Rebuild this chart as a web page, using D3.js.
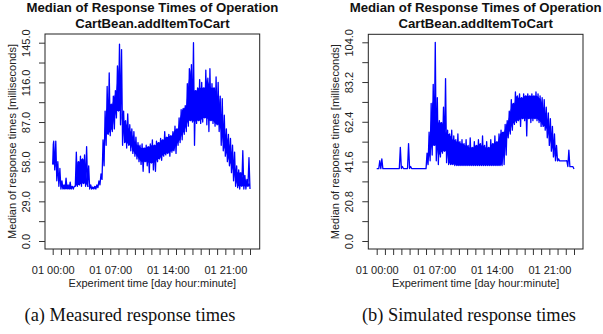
<!DOCTYPE html>
<html>
<head>
<meta charset="utf-8">
<script src="https://cdn.jsdelivr.net/npm/d3@7"></script>
<style>
  body { margin: 0; background: #fff; }
  svg text { font-family: "Liberation Sans", Arial, Helvetica, sans-serif; }
</style>
</head>
<body>
<div id="chart"></div>
<script>
// time grid: one low/high pair of the median band every 15 minutes
const stepHours = 0.25;

// (a) measured response times [ms], band low / high
const measuredLo = [56, 52, 44, 40, 38, 38, 38, 38, 38, 38, 38, 40, 40, 41, 40, 42,
  40, 40, 38, 38, 38, 38, 39, 41, 45, 55, 70, 78, 77, 80, 82, 90,
  95, 85, 70, 72, 68, 70, 66, 64, 62, 60, 58, 56, 51, 58, 55, 50,
  57, 52, 51, 58, 60, 59, 62, 63, 64, 62, 65, 66, 64, 70, 72, 74,
  78, 80, 84, 88, 87, 70, 86, 88, 86, 87, 90, 85, 80, 88, 86, 84,
  85, 80, 70, 66, 62, 58, 55, 50, 44, 40, 39, 38, 40, 38, 38, 40, 38];
const measuredHi = [73, 73, 58, 53, 44, 41, 46, 41, 43, 40, 40, 65, 58, 62, 60, 63,
  69, 55, 41, 39.5, 40, 41, 44, 49, 74, 95, 113, 123, 100, 106, 110, 128,
  144, 140, 95, 88, 93, 85, 82, 80, 76, 72, 70, 71, 68, 70, 69, 71,
  74, 70, 73, 72, 75, 74, 80, 76, 78, 77, 80, 84, 82, 90, 96, 97,
  99, 115, 126, 129, 145, 110, 112, 118, 116, 112, 125, 119, 126, 115, 112, 120,
  116, 106, 104, 92, 82, 78, 75, 70, 65, 55, 52, 50, 66, 48, 45, 61, 42];

// (b) simulated response times [ms], band low / high
const simulatedLo = [37.9, 37.9, 37.9, 37.9, 37.9, 37.9, 37.9, 37.9, 37.9, 37.9, 37.9, 37.9, 37.9, 37.9, 37.9, 37.9,
  37.9, 37.9, 37.9, 37.9, 37.9, 37.9, 37.9, 37.9, 37.9, 40, 42, 45, 50, 42, 40, 44,
  46, 47, 41, 40, 40, 40, 39.5, 39.5, 39.5, 39.5, 39.5, 39.5, 39.5, 39.5, 39.5, 39.5,
  39.5, 39.5, 39.5, 39.5, 39.5, 39.5, 39.5, 39.5, 39.5, 39.5, 39.5, 39.5, 39.5, 39.5, 40, 45,
  54, 56, 58, 61, 62, 63, 60, 64, 63, 55, 64, 62, 63, 64, 63, 62,
  60, 60, 58, 54, 50, 47, 44, 42, 41.9, 41.9, 41.9, 41.9, 41.9, 39, 38.9, 38.9, 37.7];
const simulatedHi = [37.9, 42, 43, 37.9, 37.9, 37.9, 37.9, 37.9, 37.9, 37.9, 37.9, 49, 39, 37.9, 37.9, 51,
  39, 37.9, 37.9, 37.9, 37.9, 37.9, 37.9, 37.9, 46, 57, 72, 82, 104, 75, 63, 62,
  70, 85, 58, 56, 58, 55, 53, 56, 52, 53, 51, 53, 50, 54, 49, 52,
  50, 53, 51, 55, 50, 52, 49, 53, 51, 55, 52, 56, 58, 57, 61, 63,
  68, 74, 72, 78, 76, 77, 75, 77, 76, 77, 76, 77, 76, 78, 77, 76,
  75, 74, 70, 67, 64, 60, 56, 50, 43, 41.9, 41.9, 41.9, 42, 47.6, 38.9, 38.9, 37.7];

// axis ticks
const hourTicks = d3.range(0, 25);
const hourLabels = { 0: "01 00:00", 7: "01 07:00", 14: "01 14:00", 21: "01 21:00" };
const measuredTicks = [0, 14.5, 29, 43.5, 58, 72.5, 87, 101.5, 116, 130.5, 145];
const simulatedTicks = [0, 10.4, 20.8, 31.2, 41.6, 52, 62.4, 72.8, 83.2, 93.6, 104];

const titleLines = ["Median of Response Times of Operation", "CartBean.addItemToCart"];
const xTitle = "Experiment time [day hour:minute]";
const yTitle = "Median of response times [milliseconds]";

const panels = [
  { lo: measuredLo, hi: measuredHi, ticks: measuredTicks, caption: "(a) Measured response times",
    box: { left: 45, right: 259.7, top: 34, bottom: 249 }, xr: [52.7, 250], yr: [241, 42.7], capX: 130 },
  { lo: simulatedLo, hi: simulatedHi, ticks: simulatedTicks, caption: "(b) Simulated response times",
    box: { left: 368.3, right: 583, top: 34.3, bottom: 249 }, xr: [376.7, 574], yr: [241, 42.3], capX: 469 }
];

const svg = d3.select("#chart").append("svg")
  .attr("width", 603)
  .attr("height", 334)
  .style("background", "#fff");

panels.forEach(p => {
  const b = p.box;
  const midX = (b.left + b.right) / 2;
  const midY = (b.top + b.bottom) / 2;
  const yMax = p.ticks[p.ticks.length - 1];

  const x = d3.scaleLinear().domain([0, 24]).range(p.xr);
  const y = d3.scaleLinear().domain([0, yMax]).range(p.yr);

  // solid body of the band: only the part shared with the neighbours,
  // so single spikes stay thin lines drawn by the zigzag below
  const n = p.lo.length;
  const body = p.lo.map((v, i) => {
    const a = Math.max(0, i - 1), c = Math.min(n - 1, i + 1);
    const top = Math.min(p.hi[a], p.hi[i], p.hi[c]);
    const bot = Math.max(p.lo[a], p.lo[i], p.lo[c]);
    return { t: i * stepHours, lo: Math.min(bot, top), hi: top };
  });
  svg.append("path")
    .datum(body)
    .attr("fill", "#0000ff")
    .attr("d", d3.area().x(d => x(d.t)).y0(d => y(d.lo)).y1(d => y(d.hi)));

  // jagged outline: zigzag between low and high
  const pts = [];
  p.lo.forEach((v, i) => {
    const t = i * stepHours;
    pts.push([t, v]);
    if (i < n - 1) pts.push([t + stepHours / 2, p.hi[i]]);
  });

  svg.append("path")
    .datum(pts)
    .attr("fill", "none")
    .attr("stroke", "#0000ff")
    .attr("stroke-width", 1.3)
    .attr("stroke-linejoin", "round")
    .attr("d", d3.line().x(d => x(d[0])).y(d => y(d[1])));

  // box
  svg.append("rect")
    .attr("x", b.left).attr("y", b.top)
    .attr("width", b.right - b.left).attr("height", b.bottom - b.top)
    .attr("fill", "none").attr("stroke", "#222").attr("stroke-width", 1);

  // Y axis
  const ya = svg.append("g")
    .attr("transform", `translate(${b.left},0)`)
    .call(d3.axisLeft(y).tickValues(p.ticks).tickSize(6)
      .tickFormat((d, i) => i % 2 === 0 ? d.toFixed(1) : ""));
  ya.select(".domain").remove();
  ya.selectAll("line").attr("stroke", "#333");
  ya.selectAll("text")
    .attr("x", null).attr("dy", null)
    .attr("transform", "translate(-19.5,0) rotate(-90)")
    .attr("text-anchor", "middle")
    .attr("dominant-baseline", "central")
    .attr("fill", "#222")
    .style("font-size", "11px");

  // X axis
  const xa = svg.append("g")
    .attr("transform", `translate(0,${b.bottom})`)
    .call(d3.axisBottom(x).tickValues(hourTicks).tickSize(6)
      .tickFormat(d => hourLabels[d] || ""));
  xa.select(".domain").remove();
  xa.selectAll("line").attr("stroke", "#333");
  xa.selectAll("text")
    .attr("y", 25).attr("dy", null)
    .attr("fill", "#222")
    .style("font-size", "11px");

  // titles
  titleLines.forEach((line, i) => {
    svg.append("text")
      .attr("x", midX).attr("y", 11.5 + i * 16.5)
      .attr("text-anchor", "middle")
      .style("font-size", "13.2px")
      .style("font-weight", "bold")
      .attr("fill", "#111")
      .text(line);
  });

  svg.append("text")
    .attr("x", midX).attr("y", 286.5)
    .attr("text-anchor", "middle")
    .style("font-size", "11px")
    .attr("fill", "#222")
    .text(xTitle);

  svg.append("text")
    .attr("transform", `translate(${b.left - 33},${midY}) rotate(-90)`)
    .attr("text-anchor", "middle")
    .attr("dominant-baseline", "central")
    .style("font-size", "11px")
    .attr("fill", "#222")
    .text(yTitle);

  // caption below the plot
  svg.append("text")
    .attr("x", p.capX).attr("y", 321)
    .attr("text-anchor", "middle")
    .style("font-family", "'Liberation Serif', 'Times New Roman', serif")
    .style("font-size", "18.4px")
    .attr("fill", "#111")
    .text(p.caption);
});
</script>
</body>
</html>
